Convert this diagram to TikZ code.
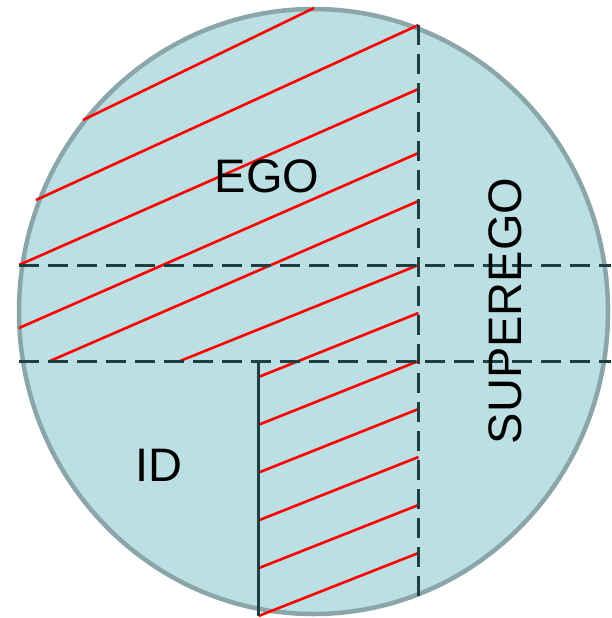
\documentclass[tikz,border=0pt]{standalone}
\usepackage{fontspec}
\setmainfont{Liberation Sans}
\usetikzlibrary{math}
\definecolor{psyfill}{RGB}{187,223,226}
\definecolor{psyrim}{RGB}{138,166,168}
\definecolor{psyline}{RGB}{30,62,68}
\definecolor{psyred}{RGB}{255,0,0}

\begin{document}
\begin{tikzpicture}[x=1pt, y=-1pt,
  zone/.style={dash pattern=on 20pt off 9pt, color=psyline, line width=3pt},
  hatch/.style={color=psyred, line width=2.6pt},
  part/.style={font=\fontsize{47}{52}\selectfont, inner sep=0pt}]
\tikzmath{
\cx=313.5;
\cy=311.5;
\xv=418.5;
\xs=258.5;
\ya=265;
\yb=361;
}
\useasboundingbox (0,0) rectangle (611,618);

\coordinate (C) at (\cx,\cy);

% psyche
\fill[psyfill] (C) ellipse [x radius=294.5pt, y radius=302.5pt];
\draw[psyrim, line width=4.5pt] (C) ellipse [x radius=294.5pt, y radius=302.5pt];

% hatching
\foreach \ax/\ay/\bx/\by in {83/120/314/8, 36/200/\xv/25, 19/265/\xv/89, 19/328/\xv/153, 50/361/\xv/201, 180/361/\xv/265}
  \draw[hatch] (\ax,\ay) -- (\bx,\by);
\foreach \k in {0,...,5}
  \draw[hatch] (\xs,377+47.8*\k) -- (\xv,313+48*\k);

% borders
\draw[zone] (19,\ya) -- (611,\ya);
\draw[zone] (19,\yb) -- (611,\yb);
\draw[zone] (\xv,25) -- (\xv,602);
\draw[color=psyline, line width=2.5pt] (\xs,\yb) -- (\xs,616);

\node[part] (ego) at (267,176) {EGO};
\node[part] (id) at (159,465) {ID};
\node[part, rotate=90] (superego) at (505,311) {SUPEREGO};
\end{tikzpicture}
\end{document}
